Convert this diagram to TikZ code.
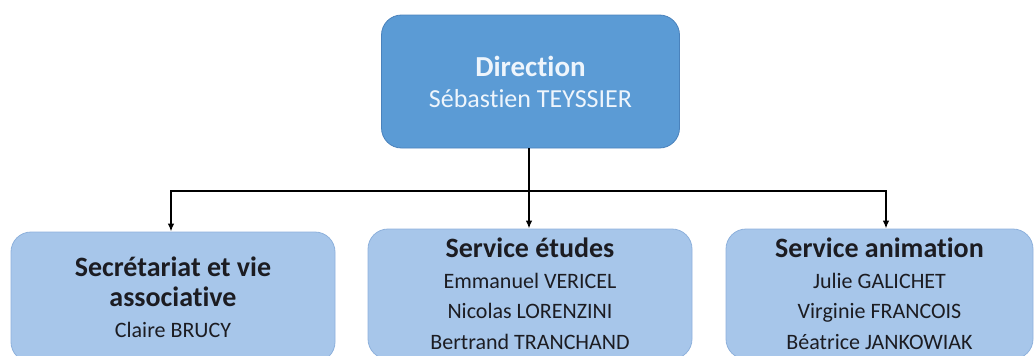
\documentclass[tikz,border=0pt]{standalone}
\usepackage{fontspec}
\setmainfont[Ligatures=NoCommon]{Carlito}
\usetikzlibrary{arrows.meta}
\definecolor{dirfond}{HTML}{5B9BD5}
\definecolor{dirbord}{HTML}{4A82BC}
\definecolor{dirtexte}{HTML}{EEF5FC}
\definecolor{svcfond}{HTML}{A7C6EA}
\definecolor{svcbord}{HTML}{8EB1DC}
\definecolor{svctexte}{HTML}{1C1C22}
\newcommand{\titre}[2][28]{{\fontsize{#1}{31}\selectfont\bfseries #2}}

\begin{document}
\begin{tikzpicture}[x=1pt,y=-1pt]
    \tikzset{chef/.style={rectangle, rounded corners=20pt, draw=dirbord, line width=0.8pt,
                          fill=dirfond, text=dirtexte, align=center,
                          minimum width=298pt, minimum height=133pt,
                          font=\fontsize{26}{31}\selectfont},
             service/.style={rectangle, rounded corners=20pt, draw=svcbord, line width=0.8pt,
                             fill=svcfond, text=svctexte, align=center,
                             minimum width=324pt, minimum height=130pt,
                             font=\fontsize{22}{30.5}\selectfont},
             fleche/.style={-{Latex[length=8pt,width=6.5pt]}, line width=1.6pt}}
    \clip (0,0) rectangle (1036,356);
    \node[chef] (dir) at (530.5,81.5) {\titre[29]{Direction}\\Sébastien TEYSSIER};
    \node[service] (secr) at (173,297) {\titre{Secrétariat et vie}\\\titre{associative}\\Claire BRUCY};
    \node[service] (etud) at (530,294) {\titre{Service études}\\Emmanuel VERICEL\\Nicolas LORENZINI\\Bertrand TRANCHAND};
    \node[service, minimum width=307pt] (anim) at (879.5,294) {\titre{Service animation}\\Julie GALICHET\\Virginie FRANCOIS\\Béatrice JANKOWIAK};
    % liaisons
    \coordinate (fourche) at (529,191);
    \draw[line width=1.6pt] (dir.south -| fourche) -- (fourche);
    \draw[fleche] (fourche) -| ([xshift=-2pt]secr.north);
    \draw[fleche] (fourche) -- (etud.north -| fourche);
    \draw[fleche] (fourche) -| ([xshift=6.5pt]anim.north);
\end{tikzpicture}
\end{document}
